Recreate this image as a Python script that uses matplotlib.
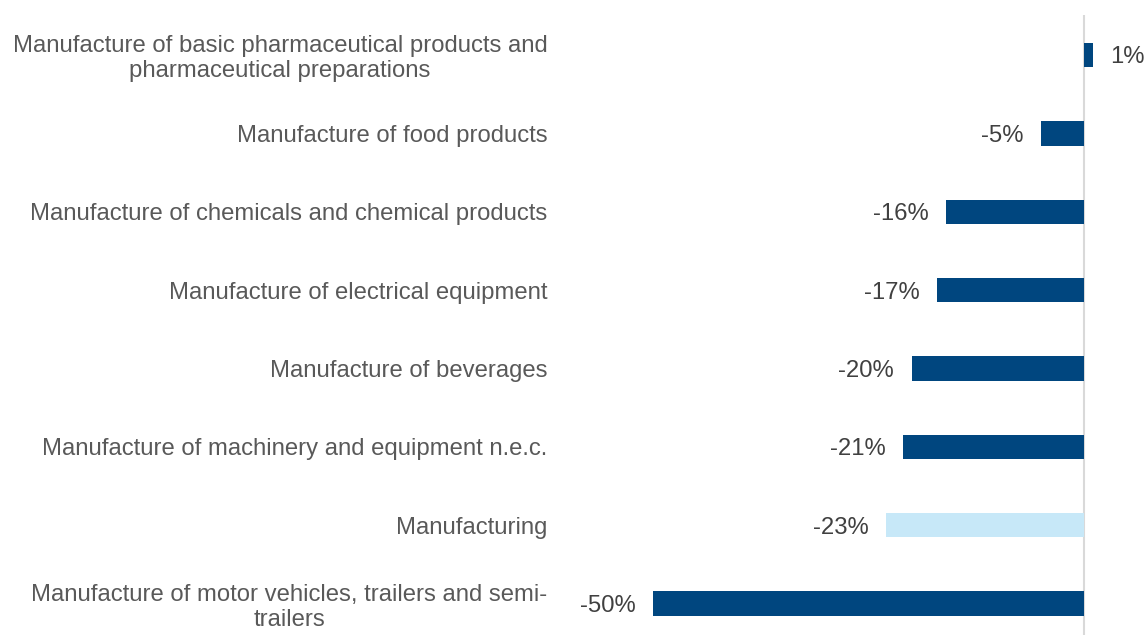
import matplotlib.pyplot as plt

plt.rcParams['font.family'] = ['Liberation Sans', 'DejaVu Sans']

categories = [
    'Manufacture of basic pharmaceutical products and\npharmaceutical preparations',
    'Manufacture of food products',
    'Manufacture of chemicals and chemical products',
    'Manufacture of electrical equipment',
    'Manufacture of beverages',
    'Manufacture of machinery and equipment n.e.c.',
    'Manufacturing',
    'Manufacture of motor vehicles, trailers and semi-\ntrailers',
]
values = [1, -5, -16, -17, -20, -21, -23, -50]
highlight = 'Manufacturing'

dark = '#00467F'
light = '#C7E8F8'
colors = [light if c == highlight else dark for c in categories]

fig = plt.figure(figsize=(11.46, 6.35), dpi=100)
ax = fig.add_axes([560 / 1146, 0, 586 / 1146, 620 / 635])

pos = list(range(len(categories)))
ax.barh(pos, values, height=0.31, color=colors)
ax.axvline(0, color='#D9D9D9', lw=1.5, zorder=0)

for y, v in zip(pos, values):
    off = 12.5 if v >= 0 else -12.5
    ax.annotate(f'{v}%', (v, y), xytext=(off, 0), textcoords='offset points',
                ha='left' if v >= 0 else 'right', va='center_baseline',
                fontsize=17.2, color='#404040')

ax.set_xlim(-60.8, 7.2)
ax.set_ylim(7.40, -0.51)
ax.set_yticks(pos)
ax.set_yticklabels(categories, fontsize=17.2, color='#595959',
                   multialignment='center', linespacing=1.15)
ax.tick_params(axis='y', length=0, pad=9)
ax.set_xticks([])
for s in ax.spines.values():
    s.set_visible(False)

fig.savefig('out.png', dpi=100)
